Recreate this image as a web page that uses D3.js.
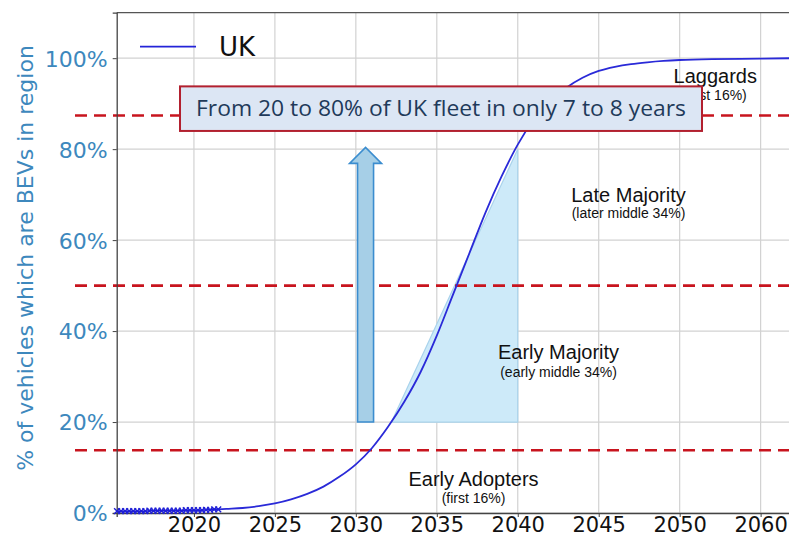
<!DOCTYPE html>
<html>
<head>
<meta charset="utf-8">
<script src="https://cdnjs.cloudflare.com/ajax/libs/d3/7.8.5/d3.min.js"></script>
<style>
  body { margin: 0; background: #fff; }
  svg { display: block; }
</style>
</head>
<body>
<script>
// forecast curve (share of UK fleet that is BEV)
var years = [2021.5, 2022, 2023, 2024, 2025, 2026, 2027, 2028, 2029, 2030,
             2031, 2032, 2033, 2034, 2035, 2036, 2037, 2038, 2039, 2040,
             2041, 2042, 2043, 2044, 2045, 2046, 2047, 2048, 2049, 2050,
             2052, 2055, 2057];
var share = [0.008, 0.009, 0.011, 0.015, 0.021, 0.030, 0.042, 0.058, 0.080, 0.107,
             0.143, 0.190, 0.245, 0.310, 0.390, 0.480, 0.570, 0.660, 0.740, 0.810,
             0.865, 0.905, 0.935, 0.957, 0.972, 0.981, 0.987, 0.991, 0.994, 0.996,
             0.998, 0.999, 1.000];

// historical points (x markers)
var histYears = [2015.25, 2015.5, 2015.75, 2016, 2016.25, 2016.5, 2016.75, 2017, 2017.25,
                 2017.5, 2017.75, 2018, 2018.25, 2018.5, 2018.75, 2019, 2019.25, 2019.5,
                 2019.75, 2020, 2020.25, 2020.5, 2020.75, 2021, 2021.25, 2021.5];
var histShare = [0.004, 0.004, 0.004, 0.004, 0.004, 0.004, 0.004, 0.004, 0.005,
                 0.005, 0.005, 0.005, 0.005, 0.005, 0.005, 0.005, 0.005, 0.006,
                 0.006, 0.006, 0.006, 0.006, 0.007, 0.007, 0.008, 0.008];

var yTicks = [0, 0.2, 0.4, 0.6, 0.8, 1.0];
var xTickValues = [2020, 2025, 2030, 2035, 2040, 2045, 2050, 2055];
var xTickLabels = ["2020", "2025", "2030", "2035", "2040", "2045", "2050", "2060"];

var thresholds = [0.138, 0.5, 0.874];

var segments = [
  { name: "Laggards", sub: "(last 16%)", year: 2052.2, top: 0.945, subTop: 0.907 },
  { name: "Late Majority", sub: "(later middle 34%)", year: 2046.84, top: 0.683, subTop: 0.648 },
  { name: "Early Majority", sub: "(early middle 34%)", year: 2042.52, top: 0.339, subTop: 0.299 },
  { name: "Early Adopters", sub: "(first 16%)", year: 2037.27, top: 0.059, subTop: 0.022 }
];

// shaded 20% -> 80% triangle
var triYears = [2032.2, 2040, 2040];
var triShare = [0.2, 0.8, 0.2];

var arrowYear = 2030.6, arrowFrom = 0.2, arrowTo = 0.804;

var note = "From 20 to 80% of UK fleet in only 7 to 8 years";
var noteBox = { x0: 2019.14, x1: 2051.38, y0: 0.84, y1: 0.938 };

var W = 789, H = 538;
var m = { left: 116.7, top: 12.7 };

var x = d3.scaleLinear().domain([2015.23, 2057]).range([m.left, 793]);
var y = d3.scaleLinear().domain([0, 1.1]).range([513, m.top]);

var svg = d3.select("body").append("svg")
  .attr("width", W).attr("height", H);

var blueText = "#3d88bd";

// grid
svg.append("g")
  .selectAll("line")
  .data(xTickValues)
  .enter().append("line")
  .attr("x1", function(d) { return x(d); })
  .attr("x2", function(d) { return x(d); })
  .attr("y1", y(1.1)).attr("y2", y(0))
  .attr("stroke", "#d2d2d2").attr("stroke-width", 1.2);

svg.append("g")
  .selectAll("line")
  .data(yTicks)
  .enter().append("line")
  .attr("x1", m.left).attr("x2", W)
  .attr("y1", function(d) { return y(d); })
  .attr("y2", function(d) { return y(d); })
  .attr("stroke", "#d2d2d2").attr("stroke-width", 1.2);

// triangle
svg.append("path")
  .attr("d", d3.line()(triYears.map(function(d, i) { return [x(d), y(triShare[i])]; })) + "Z")
  .attr("fill", "#cdeaf9")
  .attr("stroke", "#a9d3ec")
  .attr("stroke-width", 1.2);

// threshold dashed lines
svg.append("g")
  .selectAll("line")
  .data(thresholds)
  .enter().append("line")
  .attr("x1", 75).attr("x2", W)
  .attr("y1", function(d) { return y(d); })
  .attr("y2", function(d) { return y(d); })
  .attr("stroke", "#c8141e")
  .attr("stroke-width", 2.6)
  .attr("stroke-dasharray", "12,7");

// frame
svg.append("line")
  .attr("x1", m.left).attr("x2", W)
  .attr("y1", y(1.1)).attr("y2", y(1.1))
  .attr("stroke", "#555").attr("stroke-width", 1.2);

// axes
var yAxis = svg.append("g")
  .attr("transform", "translate(" + m.left + ",0)")
  .call(d3.axisLeft(y).tickValues(yTicks).tickSize(4).tickPadding(5)
    .tickFormat(function(d) { return Math.round(d * 100) + "%"; }));
yAxis.select(".domain").attr("stroke", "#444").attr("stroke-width", 1.3);
yAxis.selectAll(".tick line").attr("stroke", "#444");
yAxis.selectAll("text")
  .attr("fill", blueText)
  .style("font-family", "DejaVu Sans")
  .style("font-size", "22px")
  .attr("dy", "0.36em");

var xAxis = svg.append("g")
  .attr("transform", "translate(0," + y(0) + ")")
  .call(d3.axisBottom(x).tickValues(xTickValues).tickSize(4).tickPadding(0)
    .tickFormat(function(d, i) { return xTickLabels[i]; }));
xAxis.select(".domain").attr("stroke", "#444").attr("stroke-width", 1.3);
xAxis.selectAll(".tick line").attr("stroke", "#444");
xAxis.selectAll("text")
  .attr("fill", "#111")
  .style("font-family", "DejaVu Sans")
  .style("font-size", "21px");

// y title
svg.append("text")
  .attr("transform", "translate(33,258) rotate(-90)")
  .attr("text-anchor", "middle")
  .attr("fill", blueText)
  .style("font-family", "DejaVu Sans")
  .style("font-size", "22px")
  .text("% of vehicles which are BEVs in region");

// segment labels
var seg = svg.append("g").style("font-family", "Liberation Sans, Arial");
seg.selectAll("text.name")
  .data(segments)
  .enter().append("text")
  .attr("class", "name")
  .attr("x", function(d) { return x(d.year); })
  .attr("y", function(d) { return y(d.top); })
  .attr("text-anchor", "middle")
  .attr("fill", "#111")
  .style("font-size", "20px")
  .text(function(d) { return d.name; });
seg.selectAll("text.sub")
  .data(segments)
  .enter().append("text")
  .attr("class", "sub")
  .attr("x", function(d) { return x(d.year); })
  .attr("y", function(d) { return y(d.subTop); })
  .attr("text-anchor", "middle")
  .attr("fill", "#111")
  .style("font-size", "14px")
  .text(function(d) { return d.sub; });

// curve
var line = d3.line()
  .x(function(d) { return x(d[0]); })
  .y(function(d) { return y(d[1]); })
  .curve(d3.curveMonotoneX);

svg.append("path")
  .attr("d", line(histYears.map(function(d, i) { return [d, histShare[i]]; })))
  .attr("fill", "none").attr("stroke", "#1f1fd6").attr("stroke-width", 1.6);

svg.append("path")
  .attr("d", line(years.map(function(d, i) { return [d, share[i]]; })))
  .attr("fill", "none").attr("stroke", "#2a2ad8").attr("stroke-width", 1.8);

svg.append("g")
  .selectAll("path")
  .data(histYears)
  .enter().append("path")
  .attr("d", d3.symbol().type(d3.symbolX).size(24))
  .attr("transform", function(d, i) { return "translate(" + x(d) + "," + y(histShare[i]) + ")"; })
  .attr("fill", "none").attr("stroke", "#1f1fd6").attr("stroke-width", 1.4);

// arrow
var ax = x(arrowYear), ay0 = y(arrowFrom), ay1 = y(arrowTo);
var sw = 8, hw = 16, hl = 16;
svg.append("path")
  .attr("d", d3.line()([
    [ax - sw, ay0], [ax - sw, ay1 + hl], [ax - hw, ay1 + hl], [ax, ay1],
    [ax + hw, ay1 + hl], [ax + sw, ay1 + hl], [ax + sw, ay0]
  ]) + "Z")
  .attr("fill", "#a6cfe7")
  .attr("stroke", "#3b8dcf")
  .attr("stroke-width", 1.6);

// legend
svg.append("line")
  .attr("x1", 140).attr("x2", 196)
  .attr("y1", 46.7).attr("y2", 46.7)
  .attr("stroke", "#2424d8").attr("stroke-width", 1.8);
svg.append("text")
  .attr("x", 219).attr("y", 56)
  .attr("fill", "#111")
  .style("font-family", "DejaVu Sans")
  .style("font-size", "26px")
  .text("UK");

// annotation box
var bx0 = x(noteBox.x0), bx1 = x(noteBox.x1), by0 = y(noteBox.y1), by1 = y(noteBox.y0);
svg.append("rect")
  .attr("x", bx0).attr("y", by0)
  .attr("width", bx1 - bx0).attr("height", by1 - by0)
  .attr("fill", "#dce6f4")
  .attr("stroke", "#b2202f")
  .attr("stroke-width", 2);
svg.append("text")
  .attr("x", (bx0 + bx1) / 2)
  .attr("y", (by0 + by1) / 2 + 7.5)
  .attr("text-anchor", "middle")
  .attr("fill", "#1f3a5a")
  .attr("textLength", 490)
  .attr("lengthAdjust", "spacingAndGlyphs")
  .style("font-family", "Open Sans")
  .style("font-size", "21px")
  .text(note);
</script>
</body>
</html>
